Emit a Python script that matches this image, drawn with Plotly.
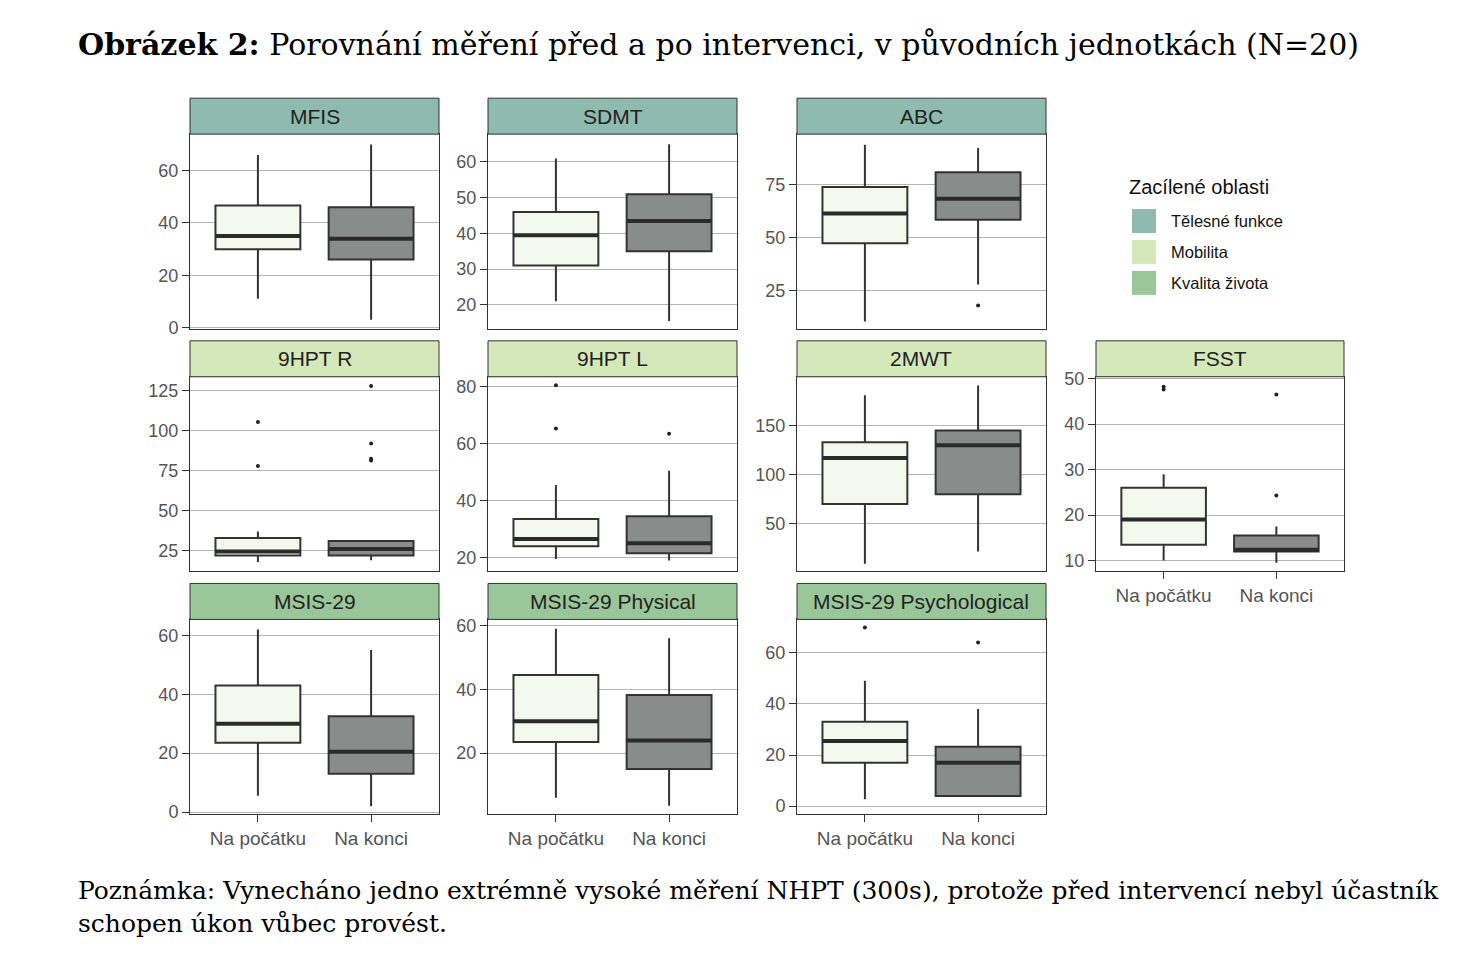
import plotly.graph_objects as go

W, H = 1468, 974

panels = ["MFIS", "SDMT", "ABC", "9HPT R", "9HPT L", "2MWT", "FSST",
          "MSIS-29", "MSIS-29 Physical", "MSIS-29 Psychological"]
areas = ["Tělesné funkce"] * 3 + ["Mobilita"] * 4 + ["Kvalita života"] * 3
groups = ["Na počátku", "Na konci"]

# [Na počátku, Na konci] per panel
q1 = [[30, 26], [31, 35], [47.5, 58.5], [22, 22], [24, 21.5], [70, 80], [13.5, 12],
      [23.5, 13], [23.5, 15], [17, 4]]
median = [[35, 34], [39.5, 43.5], [61.5, 68.5], [24.5, 26], [26.5, 25], [117, 130], [19, 12.4],
          [30, 20.5], [30, 24], [25.5, 17]]
q3 = [[46.7, 46], [46, 51], [74, 81], [33, 31], [33.5, 34.5], [133, 145], [26, 15.5],
      [43, 32.5], [44.5, 38.2], [33, 23.2]]
lower = [[11, 3], [21, 15.5], [10.5, 28], [18, 19], [19.5, 19], [9, 21.5], [10, 9.5],
         [5.5, 2], [6, 3.5], [2.7, 3.9]]
upper = [[66, 70], [61, 65], [94, 92.5], [37, 31], [45.5, 50.5], [181, 191], [29, 17.5],
         [62, 55], [59, 56], [49, 38]]
outliers = [[[], []], [[], []], [[], [18]], [[105.5, 78], [128, 92, 82.5, 81.3]],
            [[80.5, 65.3], [63.5]], [[], []], [[48.2, 47.6], [46.5, 24.3]],
            [[], []], [[], []], [[69.8], [64]]]
yticks = [[0, 20, 40, 60], [20, 30, 40, 50, 60], [25, 50, 75], [25, 50, 75, 100, 125],
          [20, 40, 60, 80], [50, 100, 150], [10, 20, 30, 40, 50],
          [0, 20, 40, 60], [20, 40, 60], [0, 20, 40, 60]]
yranges = [[-0.5, 74], [13.3, 67.8], [7, 99], [12, 133.7], [15.1, 83.5], [1, 200], [7.6, 50.4],
           [-0.7, 65.4], [0.9, 61.9], [-3.1, 73]]

area_colors = {"Tělesné funkce": "#8fbaae", "Mobilita": "#d5e8b9", "Kvalita života": "#9ac79a"}
box_fill = ["#f4f9ee", "#888c8b"]


# map reference pixel positions to paper coords (page renders with a small offset)
def fx(x):
    return (x - 8) / W


def fy(y):
    return 1 - ((y - 14.7) / 0.984) / H


# pixel layout
col_x = [(190, 439), (488, 737), (797, 1046), (1096, 1344)]
row_y = [(133, 328), (376, 571), (619, 814)]
pos = [(0, 0), (0, 1), (0, 2), (1, 0), (1, 1), (1, 2), (1, 3), (2, 0), (2, 1), (2, 2)]
bottom = {(2, 0), (2, 1), (2, 2), (1, 3)}

fig = go.Figure()
shapes, annots = [], []
for i, name in enumerate(panels):
    r, c = pos[i]
    x0, x1 = col_x[c]
    y0, y1 = row_y[r]
    ax = "" if i == 0 else str(i + 1)
    fig.update_layout(**{
        "xaxis" + ax: dict(domain=[fx(x0), fx(x1)], anchor="y" + ax, range=[0.4, 2.6],
                           tickvals=[1, 2], ticktext=groups if (r, c) in bottom else ["", ""],
                           ticks="outside" if (r, c) in bottom else "", ticklen=7,
                           tickcolor="#333", showgrid=False, zeroline=False,
                           showline=True, linecolor="#333", mirror=True, linewidth=1,
                           tickfont=dict(size=19, color="#555")),
        "yaxis" + ax: dict(domain=[fy(y1), fy(y0)], anchor="x" + ax, range=yranges[i],
                           tickvals=yticks[i], ticks="outside", ticklen=7, tickcolor="#333",
                           showgrid=True, gridcolor="#b5b5b5", gridwidth=1, zeroline=False,
                           showline=True, linecolor="#333", mirror=True, linewidth=1,
                           tickfont=dict(size=18, color="#555")),
    })
    for g in range(2):
        fig.add_trace(go.Box(
            x=[g + 1], q1=[q1[i][g]], median=[median[i][g]], q3=[q3[i][g]],
            lowerfence=[lower[i][g]], upperfence=[upper[i][g]], width=0.75,
            whiskerwidth=0, fillcolor=box_fill[g], line=dict(color="#333", width=2),
            boxpoints=False, showlegend=False, hoverinfo="skip",
            xaxis="x" + ax, yaxis="y" + ax))
        fig.add_trace(go.Scatter(
            x=[g + 1 - 0.375, g + 1 + 0.375], y=[median[i][g]] * 2, mode="lines",
            line=dict(color="#2b2b2b", width=4), showlegend=False, hoverinfo="skip",
            xaxis="x" + ax, yaxis="y" + ax))
        if outliers[i][g]:
            fig.add_trace(go.Scatter(
                x=[g + 1] * len(outliers[i][g]), y=outliers[i][g], mode="markers",
                marker=dict(color="#222", size=4), showlegend=False, hoverinfo="skip",
                xaxis="x" + ax, yaxis="y" + ax))
    # facet strip
    shapes.append(dict(type="rect", xref="paper", yref="paper", x0=fx(x0), x1=fx(x1),
                       y0=fy(y0), y1=fy(y0 - 36),
                       fillcolor=area_colors[areas[i]], line=dict(color="#333", width=1)))
    annots.append(dict(text=name, xref="paper", yref="paper", x=fx((x0 + x1) / 2),
                       y=fy(y0 - 18), showarrow=False, xanchor="center", yanchor="middle",
                       font=dict(size=21, color="#222")))

# legend
annots.append(dict(text="Zacílené oblasti", xref="paper", yref="paper", x=fx(1127), y=fy(186),
                   showarrow=False, xanchor="left", yanchor="middle",
                   font=dict(size=20, color="#111")))
for k, (area, col) in enumerate(area_colors.items()):
    yc = 220 + 31 * k
    shapes.append(dict(type="rect", xref="paper", yref="paper", x0=fx(1132), x1=fx(1156),
                       y0=fy(yc + 12), y1=fy(yc - 12), fillcolor=col,
                       line=dict(width=0)))
    annots.append(dict(text=area, xref="paper", yref="paper", x=fx(1169), y=fy(yc),
                       showarrow=False, xanchor="left", yanchor="middle",
                       font=dict(size=16.5, color="#111")))

serif = "DejaVu Serif"
annots.append(dict(text="<b>Obrázek 2:</b> Porovnání měření před a po intervenci, v původních jednotkách (N=20)",
                   xref="paper", yref="paper", x=fx(76), y=fy(43), showarrow=False,
                   xanchor="left", yanchor="middle", font=dict(size=30, color="#000", family=serif)))
annots.append(dict(text="Poznámka: Vynecháno jedno extrémně vysoké měření NHPT (300s), protože před intervencí nebyl účastník<br>schopen úkon vůbec provést.",
                   xref="paper", yref="paper", x=fx(76), y=fy(907), showarrow=False,
                   xanchor="left", yanchor="middle", align="left",
                   font=dict(size=25, color="#000", family=serif)))

fig.update_layout(width=W, height=H, margin=dict(l=0, r=0, t=0, b=0),
                  paper_bgcolor="white", plot_bgcolor="white",
                  font=dict(family="Liberation Sans"), shapes=shapes, annotations=annots)
fig.write_html("out.html")
